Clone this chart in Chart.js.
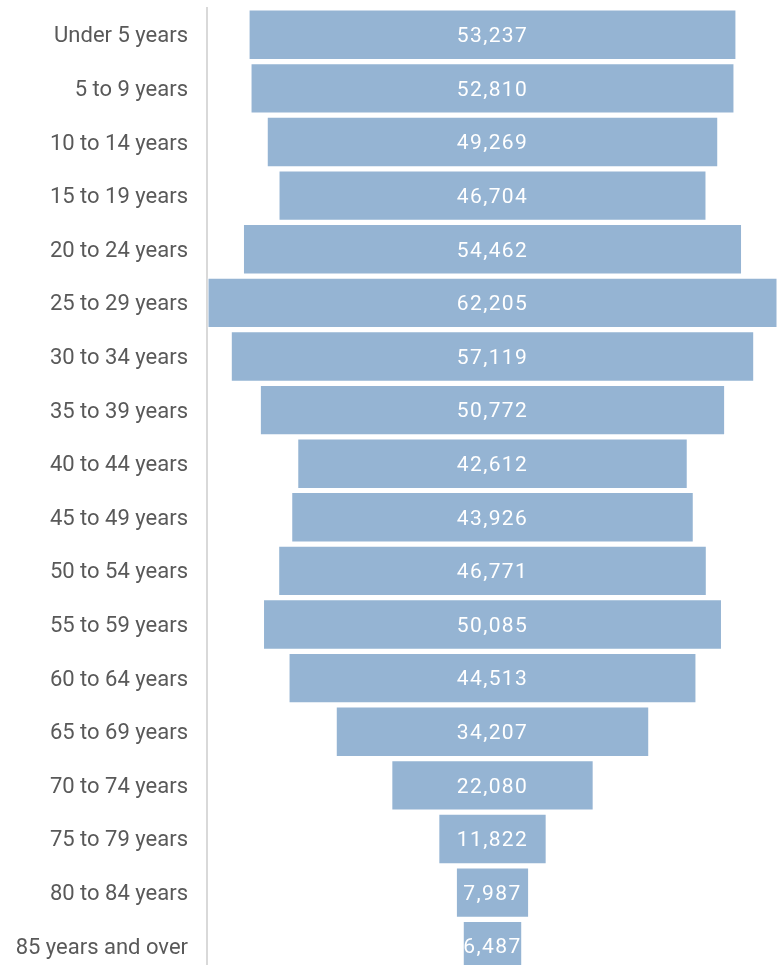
<!DOCTYPE html>
<html><head><meta charset="utf-8">
<script src="https://cdn.jsdelivr.net/npm/chart.js@4.4.0/dist/chart.umd.min.js"></script>
<style>html,body{margin:0;padding:0;overflow:hidden;background:#fff}#wrap{width:778px;height:973px;position:relative}</style>
</head><body><div id="wrap"><canvas id="c"></canvas></div>
<script>
const categories = ["Under 5 years","5 to 9 years","10 to 14 years","15 to 19 years","20 to 24 years","25 to 29 years","30 to 34 years","35 to 39 years","40 to 44 years","45 to 49 years","50 to 54 years","55 to 59 years","60 to 64 years","65 to 69 years","70 to 74 years","75 to 79 years","80 to 84 years","85 years and over"];
const population = [53237,52810,49269,46704,54462,62205,57119,50772,42612,43926,46771,50085,44513,34207,22080,11822,7987,6487];

const FONT = "Roboto, 'Open Sans', sans-serif";
const half = Math.max(...population) / 2 * 571 / 570;

const labelPlugin = {
  id: 'centerLabels',
  afterDatasetsDraw(chart) {
    const ctx = chart.ctx;
    const meta = chart.getDatasetMeta(0);
    meta.data.forEach((bar, i) => {
      const p = bar.getProps(['x','y','base','height'], true);
      const l = Math.min(p.x, p.base), r = Math.max(p.x, p.base);
      ctx.save();
      ctx.beginPath();
      ctx.rect(l, p.y - p.height/2, r - l, p.height);
      ctx.clip();
      ctx.fillStyle = '#ffffff';
      ctx.font = '21px ' + FONT;
      if ('letterSpacing' in ctx) ctx.letterSpacing = '1.4px';
      ctx.textAlign = 'center';
      ctx.textBaseline = 'middle';
      ctx.fillText(population[i].toLocaleString('en-US'), (l + r) / 2, p.y + 2);
      ctx.restore();
    });
  }
};

new Chart(document.getElementById('c'), {
  type: 'bar',
  data: {
    labels: categories,
    datasets: [{
      data: population.map(v => [-v/2, v/2]),
      backgroundColor: '#95b4d3',
      borderColor: 'rgba(255,255,255,0.35)',
      borderWidth: 1,
      borderSkipped: false,
      barPercentage: 0.94,
      categoryPercentage: 1.0
    }]
  },
  options: {
    indexAxis: 'y',
    responsive: true,
    maintainAspectRatio: false,
    animation: false,
    layout: { padding: { top: 8, left: 0, right: 0, bottom: 0 } },
    plugins: { legend: { display: false }, tooltip: { enabled: false } },
    scales: {
      x: { display: false, min: -half, max: half },
      y: {
        grid: { display: false },
        border: { display: true, color: '#d9d9d9', width: 2 },
        ticks: { color: '#595959', font: { family: FONT, size: 22 }, padding: 11, labelOffset: 2 },
        afterFit(scale) { scale.width = 207; scale.paddingTop = 0; scale.paddingBottom = 0; }
      }
    }
  },
  plugins: [labelPlugin]
});
</script></body></html>
